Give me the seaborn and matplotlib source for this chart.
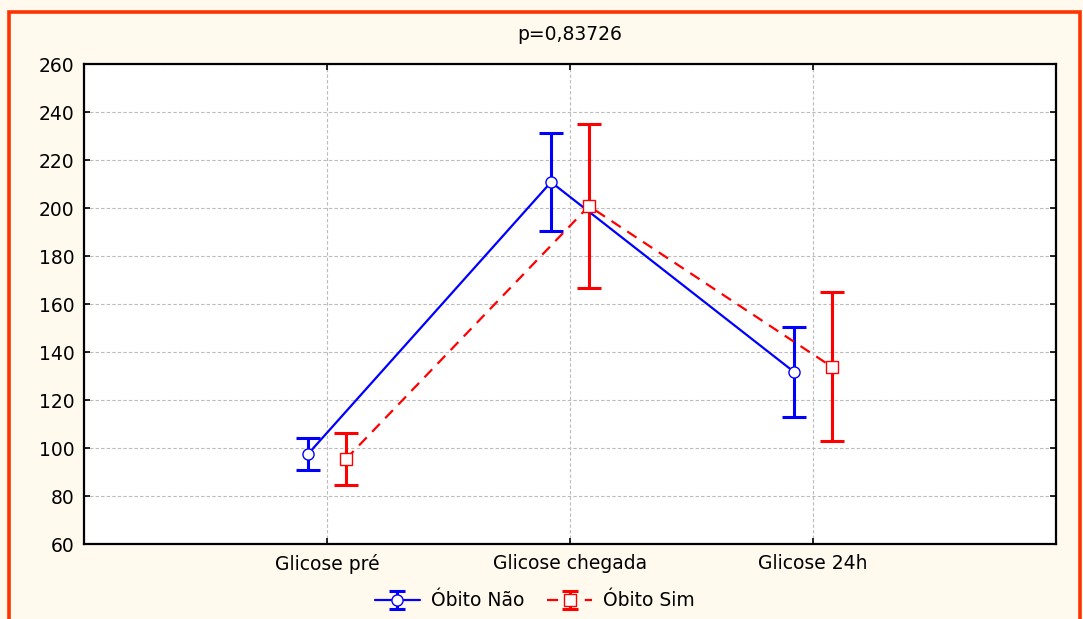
import numpy as np
import pandas as pd
import matplotlib
matplotlib.use("Agg")
import matplotlib.pyplot as plt
from matplotlib.patches import Rectangle
import seaborn as sns

categories = ["Glicose pré", "Glicose chegada", "Glicose 24h"]
groups = ["Óbito Não", "Óbito Sim"]
means_nao = [97.5, 210.8, 131.7]
err_nao = [6.5, 20.5, 18.6]
means_sim = [95.4, 200.8, 133.8]
err_sim = [11.0, 34.0, 31.0]
title_text = "p=0,83726"

sns.set_theme(style="white")
plt.rcParams['font.family'] = ['DejaVu Sans']

fig = plt.figure(figsize=(10.83, 6.19), dpi=100)
fig.patch.set_facecolor("#FFF9EE")
ax = fig.add_axes([84/1083, 1-544/619, (1056-84)/1083, (544-64)/619])
ax.set_facecolor("white")

offset = 0.078
x = np.arange(len(categories))
df = pd.DataFrame({
    "x": np.concatenate([x - offset, x + offset]),
    "y": means_nao + means_sim,
    "err": err_nao + err_sim,
    "grp": [groups[0]] * 3 + [groups[1]] * 3,
})
colors = {groups[0]: "#0000FF", groups[1]: "#FF0000"}

sns.lineplot(data=df, x="x", y="y", hue="grp", style="grp", palette=colors,
             dashes={groups[0]: "", groups[1]: (5, 3.5)},
             linewidth=1.6, ax=ax, legend=False, zorder=3)

handles = []
for g, mk, ls in [(groups[0], "o", "-"), (groups[1], "s", (0, (5, 3.5)))]:
    d = df[df.grp == g]
    ax.errorbar(d.x, d.y, yerr=d.err, fmt="none", ecolor=colors[g],
                elinewidth=2.2, capsize=8.7, capthick=2.2, zorder=2)
    ax.plot(d.x, d.y, linestyle="none", marker=mk, ms=8 if mk == "o" else 8.5,
            mfc="white", mec=colors[g], mew=1.0, zorder=4)
    hl = ax.errorbar([np.nan], [np.nan], yerr=[1], fmt=mk, linestyle=ls,
                     color=colors[g], mfc="white", ms=8, lw=1.6,
                     elinewidth=2.2, capsize=6, capthick=2.2, label=g)
    handles.append(hl)

ax.set_xlim(-1, 3)
ax.set_ylim(60, 260)
ax.set_xticks(x)
ax.set_xticklabels(categories)
ax.set_yticks(np.arange(60, 261, 20))
ax.tick_params(axis="both", labelsize=13.5, colors="black", direction="in",
               length=4, width=1.2, left=True, right=True, bottom=True, top=True,
               pad=7)
ax.grid(True, color="#BBBBBB", linestyle=(0, (3, 2)), linewidth=0.8)
ax.set_axisbelow(True)
for s in ax.spines.values():
    s.set_color("black")
    s.set_linewidth(1.6)
ax.set_xlabel("")
ax.set_ylabel("")
ax.set_title(title_text, fontsize=13.5, pad=17, color="black")

leg = fig.legend(handles=handles, labels=groups, loc="center", ncol=2,
                 bbox_to_anchor=(535/1083, 1-601/619), frameon=False, fontsize=13.5,
                 handlelength=2.4, columnspacing=1.2, handletextpad=0.6)
for t in leg.get_texts():
    t.set_color("black")

fig.patches.append(Rectangle((8.5/1083, -0.1), (1079.5-8.5)/1083, 1.1 - 11.5/619,
                             transform=fig.transFigure, fill=False,
                             edgecolor="#FF3300", linewidth=2.6, zorder=10))

fig.savefig("out.png", dpi=100, facecolor=fig.get_facecolor())
